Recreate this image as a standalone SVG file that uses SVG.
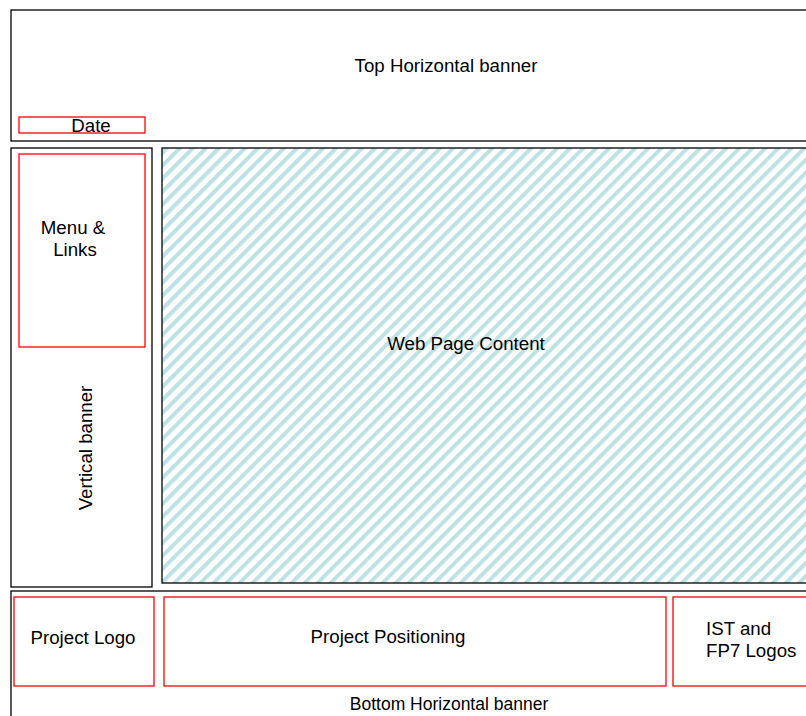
<svg xmlns="http://www.w3.org/2000/svg" width="806" height="716" viewBox="0 0 806 716">
<style>
.box{fill:#fff;stroke:#000;stroke-width:1.3}
.red{fill:none;stroke:#f00;stroke-width:1.3}
text{font-family:"Liberation Sans",Arial,sans-serif;font-size:18.7px;fill:#000;text-anchor:middle}
</style>
<defs>
<pattern id="hatch" patternUnits="userSpaceOnUse" width="9.2" height="9.2" patternTransform="rotate(45)">
<rect width="9.2" height="9.2" fill="#fff"/>
<rect x="0" y="0" width="4" height="9.2" fill="#bde2e5"/>
</pattern>
</defs>
<rect width="806" height="716" fill="#fff"/>
<g id="top-banner">
<rect class="box" x="11" y="10" width="800" height="131"/>
<text x="446" y="72">Top Horizontal banner</text>
</g>
<g id="date">
<rect class="red" x="19" y="117" width="126" height="16"/>
<text x="91" y="132">Date</text>
</g>
<g id="vertical-banner">
<rect class="box" x="11" y="148" width="141" height="439"/>
<text transform="translate(92,448) rotate(-90)">Vertical banner</text>
</g>
<g id="menu">
<rect class="red" x="19" y="154" width="126" height="193"/>
<text x="73" y="234">Menu &amp;</text>
<text x="75" y="256">Links</text>
</g>
<g id="content">
<rect x="162" y="148" width="650" height="435" fill="url(#hatch)" stroke="#000" stroke-width="1.3"/>
<text x="466" y="350">Web Page Content</text>
</g>
<g id="bottom-banner">
<rect class="box" x="11" y="591" width="800" height="130"/>
<text x="449" y="710" style="font-size:17.5px">Bottom Horizontal banner</text>
</g>
<g id="project-logo">
<rect class="red" x="14" y="597" width="140" height="89"/>
<text x="83" y="644">Project Logo</text>
</g>
<g id="project-positioning">
<rect class="red" x="164" y="597" width="502" height="89"/>
<text x="388" y="643">Project Positioning</text>
</g>
<g id="ist-logos">
<rect class="red" x="673" y="597" width="140" height="89"/>
<text x="706" y="635" style="text-anchor:start">IST and</text>
<text x="706" y="657" style="text-anchor:start">FP7 Logos</text>
</g>
<g id="connectors"></g>
</svg>
